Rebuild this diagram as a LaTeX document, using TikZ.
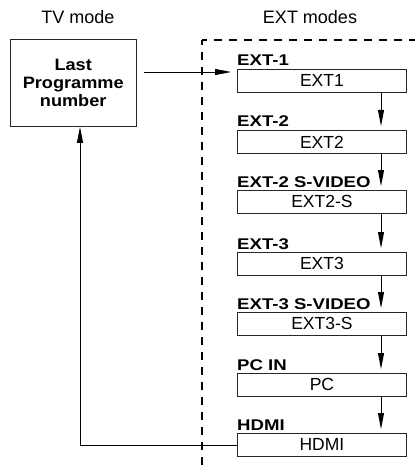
\documentclass[tikz,border=0pt]{standalone}
\usepackage{fontspec}
\setmainfont{Liberation Sans}
\usetikzlibrary{arrows.meta,calc}
\tikzset{
  modebox/.style={draw=black!85, line width=0.9pt, minimum width=169pt, minimum height=23pt,
    inner sep=0pt, anchor=north west, font=\fontsize{17.5}{20}\selectfont},
  modelabel/.style={inner sep=0pt, anchor=base west, xscale=1.2, transform shape,
    font=\bfseries\fontsize{15.5}{18}\selectfont},
  title/.style={inner sep=0pt, anchor=base, font=\fontsize{18}{21}\selectfont},
  arr/.style={line width=0.9pt, -{Triangle[length=16pt,width=6pt]}},
  dashline/.style={line width=1.6pt, dash pattern=on 8pt off 7pt, dash phase=3pt},
}
\begin{document}
\begin{tikzpicture}[x=1pt,y=-1pt]
\useasboundingbox (0,0) rectangle (415,465);
\node[title] (tv) at (78,24) {TV mode};
\node[title] (ext) at (310,24) {EXT modes};
\node[draw=black!85, line width=0.9pt, minimum width=126.5pt, minimum height=87pt, inner sep=0pt,
  anchor=north west] (last) at (9.5,39) {};
\node[inner sep=0pt, align=center, xscale=1.1, transform shape,
  font=\bfseries\fontsize{16.5}{18}\selectfont] (lasttext) at (last.center) {Last\\Programme\\number};
\coordinate (corner) at (202,40);
\coordinate (topend) at (415,40);
\coordinate (botend) at (202,465);
\draw[dashline] (corner) -- (topend);
\draw[dashline] (corner) -- (botend);
\node[modebox] (b1) at (237,69) {EXT1};
\node[modebox] (b2) at (237,130) {EXT2};
\node[modebox] (b3) at (237,190) {EXT2-S};
\node[modebox] (b4) at (237,252) {EXT3};
\node[modebox] (b5) at (237,312) {EXT3-S};
\node[modebox] (b6) at (237,373) {PC};
\node[modebox] (b7) at (237,433) {HDMI};
\node[modelabel] (l1) at (237,66) {EXT-1};
\node[modelabel] (l2) at (237,127) {EXT-2};
\node[modelabel] (l3) at (237,187) {EXT-2 S-VIDEO};
\node[modelabel] (l4) at (237,249) {EXT-3};
\node[modelabel] (l5) at (237,309) {EXT-3 S-VIDEO};
\node[modelabel] (l6) at (237,370) {PC IN};
\node[modelabel] (l7) at (237,430) {HDMI};
\coordinate (ax) at (381,0);
\coordinate (ay) at (0,72);
\coordinate (fb) at (80,0);
\foreach \a/\b in {b1/b2,b2/b3,b3/b4,b4/b5,b5/b6,b6/b7}
  \draw[arr, shorten >=4pt] (\a.south -| ax) -- (\b.north -| ax);
\draw[arr, shorten <=7pt, shorten >=6pt] (last.east |- ay) -- (b1.west |- ay);
\draw[arr] (b7.west) -- (b7.west -| fb) -- (last.south -| fb);
\end{tikzpicture}
\end{document}
